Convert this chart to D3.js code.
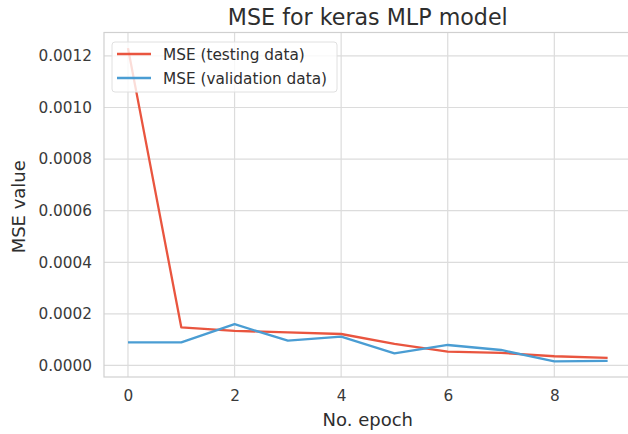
<!DOCTYPE html>
<meta charset="utf-8">
<style>
    body { margin: 0; background: #fff; overflow: hidden; }
    text { font-family: "DejaVu Sans", sans-serif; fill: #2e2e2e; }
</style>
<script src="https://d3js.org/d3.v7.min.js"></script>
<div id="chart"></div>
<script>
    // chart data
    var epochs = [0, 1, 2, 3, 4, 5, 6, 7, 8, 9];
    var mseTesting = [0.00123, 0.000148, 0.000134, 0.000128, 0.000122, 0.0000833, 0.0000537, 0.0000487, 0.0000357, 0.0000296];
    var mseValidation = [0.0000894, 0.0000894, 0.00016, 0.000096, 0.000112, 0.0000472, 0.0000794, 0.00006, 0.000016, 0.000018];
    var xTicks = [0, 2, 4, 6, 8];
    var yTicks = [0, 0.0002, 0.0004, 0.0006, 0.0008, 0.0010, 0.0012];
    var seriesNames = ["MSE (testing data)", "MSE (validation data)"];
    var seriesColors = ["#e9553f", "#4a9dd3"];

    var width = 628, height = 434;
    // the axes box runs a little past the right edge of the picture
    var margin = {top: 32.5, left: 104};
    var innerW = 527.6,
        innerH = 377 - margin.top;

    var svg = d3.select("#chart")
        .append("svg")
        .attr("width", width)
        .attr("height", height);

    var g = svg.append("g")
        .attr("transform", "translate(" + margin.left + "," + margin.top + ")");

    // matplotlib style 5% padding
    var allY = mseTesting.concat(mseValidation);
    var yMin = d3.min(allY), yMax = d3.max(allY);
    var yPad = (yMax - yMin) * 0.05;
    var xPad = (d3.max(epochs) - d3.min(epochs)) * 0.05;

    var x = d3.scaleLinear()
        .domain([d3.min(epochs) - xPad, d3.max(epochs) + xPad])
        .range([0, innerW]);

    var y = d3.scaleLinear()
        .domain([yMin - yPad, yMax + yPad])
        .range([innerH, 0]);

    // grid
    g.append("g")
        .selectAll("line")
        .data(xTicks)
        .enter()
        .append("line")
        .attr("x1", function(d) { return x(d); })
        .attr("x2", function(d) { return x(d); })
        .attr("y1", 0)
        .attr("y2", innerH)
        .style("stroke", "#dcdcdc")
        .style("stroke-width", 1.2);

    g.append("g")
        .selectAll("line")
        .data(yTicks)
        .enter()
        .append("line")
        .attr("x1", 0)
        .attr("x2", innerW)
        .attr("y1", function(d) { return y(d); })
        .attr("y2", function(d) { return y(d); })
        .style("stroke", "#dcdcdc")
        .style("stroke-width", 1.2);

    // frame
    g.append("rect")
        .attr("width", innerW)
        .attr("height", innerH)
        .style("fill", "none")
        .style("stroke", "#d0d0d0")
        .style("stroke-width", 1.2);

    // axes (labels only, no tick marks)
    var xAxis = g.append("g")
        .attr("transform", "translate(0," + innerH + ")")
        .call(d3.axisBottom(x).tickValues(xTicks).tickSize(0).tickPadding(13).tickFormat(d3.format("d")));
    var yAxis = g.append("g")
        .call(d3.axisLeft(y).tickValues(yTicks).tickSize(0).tickPadding(12).tickFormat(d3.format(".4f")));
    [xAxis, yAxis].forEach(function(a) {
        a.select(".domain").remove();
        a.selectAll("text")
            .style("font-size", "15.3px")
            .style("fill", "#3a3a3a")
            .style("font-family", "DejaVu Sans, sans-serif");
    });

    // lines
    var line = d3.line()
        .x(function(d, i) { return x(epochs[i]); })
        .y(function(d) { return y(d); });

    [mseTesting, mseValidation].forEach(function(s, i) {
        g.append("path")
            .datum(s)
            .attr("d", line)
            .style("fill", "none")
            .style("stroke", seriesColors[i])
            .style("stroke-width", 2.3)
            .style("stroke-linejoin", "round");
    });

    // legend
    var legend = svg.append("g").attr("transform", "translate(112,42)");
    legend.append("rect")
        .attr("width", 225)
        .attr("height", 50)
        .attr("rx", 3)
        .style("fill", "rgba(255,255,255,0.8)")
        .style("stroke", "#e0e0e0");
    seriesNames.forEach(function(name, i) {
        var ly = 12 + i * 24;
        legend.append("line")
            .attr("x1", 5).attr("x2", 39)
            .attr("y1", ly).attr("y2", ly)
            .style("stroke", seriesColors[i])
            .style("stroke-width", 2.3);
        legend.append("text")
            .attr("x", 51)
            .attr("y", ly + 6)
            .style("font-size", "15.3px")
            .text(name);
    });

    // titles
    svg.append("text")
        .attr("x", margin.left + innerW / 2)
        .attr("y", 25)
        .attr("text-anchor", "middle")
        .style("font-size", "22.2px")
        .text("MSE for keras MLP model");

    svg.append("text")
        .attr("x", margin.left + innerW / 2)
        .attr("y", 426)
        .attr("text-anchor", "middle")
        .style("font-size", "18px")
        .text("No. epoch");

    svg.append("text")
        .attr("transform", "translate(25," + (margin.top + innerH / 2 + 2) + ") rotate(-90)")
        .attr("text-anchor", "middle")
        .style("font-size", "18px")
        .text("MSE value");
</script>
